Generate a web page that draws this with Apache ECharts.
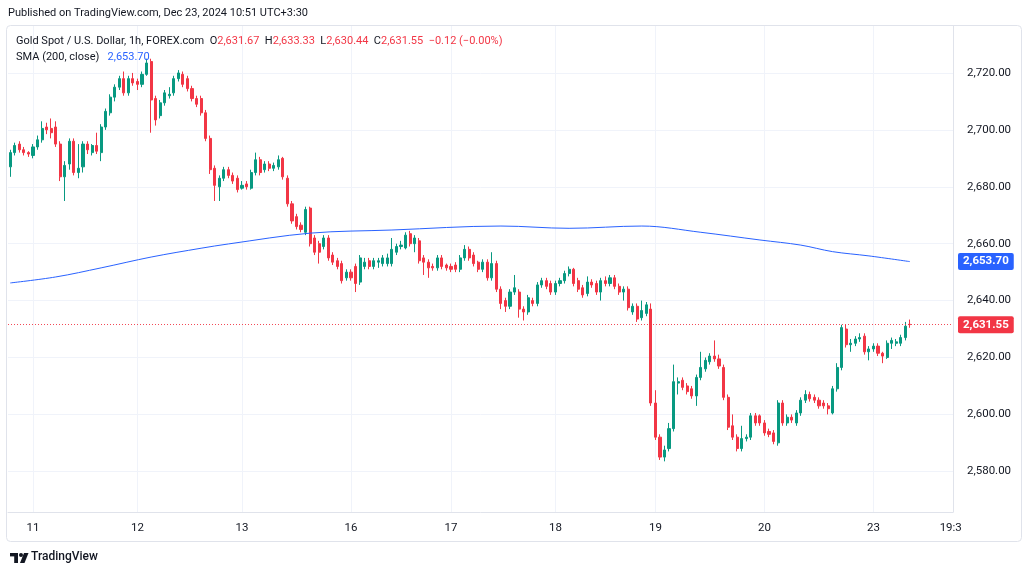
<!DOCTYPE html>
<html><head><meta charset="utf-8">
<script src="https://cdn.jsdelivr.net/npm/echarts@6/dist/echarts.min.js"></script>
<style>html,body{margin:0;padding:0;background:#fff}#c{width:1030px;height:574px}</style>
</head><body><div id="c"></div>
<script>
// Candles: [open, close, low, high], 1h bars, grouped by session day (UTC+3:30)
const dec10 = [
 [2687,2692,2683.5,2693],[2692,2694.5,2691,2695.5],[2695,2693,2692,2696],[2693,2692,2691,2694],[2692,2691.5,2690.5,2692.5]
];
const dec11 = [
 [2691,2694,2690,2695],[2694,2696.5,2693,2698],[2696.5,2700.5,2695.5,2703],[2701,2700,2698.5,2702.5],
 [2700.5,2699,2697,2704],[2701,2695,2694,2703],[2695,2683.5,2682,2696],[2683.5,2687.5,2675,2689],
 [2688,2696,2686,2697],[2696,2685,2684,2697],[2685,2686.5,2683,2695],[2687,2695,2685,2696],
 [2695,2693,2691.5,2696],[2692,2694.5,2691,2695],[2694.5,2692.5,2691.5,2699],[2692,2701,2689,2702],
 [2701,2706.5,2700,2707.5],[2706,2711.5,2705,2712.5],[2711.5,2715,2710,2716],[2715,2718,2714,2719],
 [2718,2713,2712,2720.5],[2713,2718,2712,2719],[2718,2716.5,2715.5,2720]
];
const dec12 = [
 [2717,2716,2714,2718],[2716,2719.5,2715,2720.5],[2719.5,2723.5,2719,2725],[2724,2710.5,2699,2725],
 [2711,2703.5,2701.5,2712],[2705,2709.5,2704,2710.5],[2709.5,2713,2708.5,2714],[2712,2712.5,2711,2715],
 [2713,2718,2712,2719],[2718,2720,2717,2721],[2719.5,2716,2715,2720.5],[2718,2714.5,2713.5,2719],
 [2714.5,2711,2710,2715.5],[2711,2709,2708,2712],[2711,2706,2705,2712],[2706,2697,2696,2707],
 [2697,2686,2684.5,2698],[2686.5,2680.5,2675,2687.5],[2680,2683,2675,2684],[2683,2686,2682,2687],
 [2686,2684,2683,2687],[2684,2682,2681,2685],[2683,2679,2678,2684]
];
const dec13 = [
 [2679.5,2680.5,2679,2682],[2681,2680,2679,2682],[2679.5,2685,2679,2686],[2685,2689.5,2684,2692],
 [2689.5,2685,2684,2690.5],[2686,2688,2685,2689],[2688,2686.5,2685.5,2689],[2686.5,2687.5,2685.5,2688.5],
 [2687,2689.5,2686,2691],[2690,2683.5,2682.5,2690.5],[2683,2674,2673,2684],[2674,2668,2667,2675],
 [2669.5,2666,2665,2670.5],[2666.5,2665,2664,2667.5],[2664,2672,2663,2673],[2672.5,2660,2659,2673],
 [2662,2657,2656,2663],[2660,2657,2653,2661],[2659,2662,2658,2663],[2662,2655,2654,2663],
 [2656,2653.5,2652.5,2657],[2654,2652,2651,2655],[2653,2647,2646,2654],[2648,2650,2647,2651]
];
const dec16 = [
 [2650,2648,2647,2651],[2652,2646,2643,2653],[2646.5,2655,2645.5,2656],[2652,2653.5,2651,2655],
 [2654,2652,2651,2655],[2652,2654,2651,2655],[2653.5,2654,2651.5,2655],[2653,2655,2652,2656],
 [2653,2655,2652,2656.5],[2653,2658,2652,2662],[2657,2659,2656,2660],[2659,2659.5,2658,2661],
 [2658.5,2663,2658,2664],[2663.5,2660,2659,2664.5],[2660,2662,2657,2663],[2661,2654,2653,2662],
 [2655,2653.5,2649,2656],[2653.5,2651.5,2648,2654.5],[2652,2651.5,2650.5,2653],[2651.5,2655,2650.5,2656],
 [2655,2652,2651,2656],[2652.5,2651.5,2650.5,2653]
];
const dec17 = [
 [2652,2651,2650,2653],[2652.5,2651,2650,2653.5],[2651,2655,2650,2656],[2655,2658,2654,2659.5],
 [2658,2655,2654,2659],[2656,2653,2652,2657],[2653.5,2651,2650,2654],[2651,2653.5,2650,2654.5],
 [2653.5,2648,2647,2654.5],[2648,2653,2647,2657],[2653,2644,2643,2654],[2644,2639,2637,2645],
 [2640,2638,2636,2641],[2638,2643,2637,2644],[2643,2644.5,2642,2649],[2643,2637,2634,2644],
 [2637,2636,2633,2638],[2636,2641,2635,2642],[2640,2639,2638,2641],[2639,2645.5,2638,2646.5],
 [2645.5,2647,2644.5,2648],[2647,2645,2644,2648],[2646,2643,2642,2647]
];
const dec18 = [
 [2643,2646,2642,2647],[2646,2647,2645,2648],[2647,2649.5,2646,2650.5],[2649.5,2651,2648.5,2652],
 [2651,2646,2645,2651.5],[2647,2644,2643,2648],[2644.5,2642,2641,2645.5],[2642.5,2646.5,2641.5,2648.5],
 [2646.5,2645.5,2644.5,2647.5],[2646,2643,2642,2647],[2643,2647,2640,2648],[2647,2646,2645,2648.5],
 [2646,2648,2645,2649],[2648,2645,2644,2649],[2645,2643,2642,2646],[2643,2644,2640,2645],
 [2644,2637.5,2636.5,2645],[2636,2638,2635,2639],[2638,2633.5,2632.5,2639],[2634,2636.5,2633,2640],
 [2635.5,2638.5,2634.5,2639.5],[2637,2604,2603,2639]
];
const dec19 = [
 [2604,2592,2591,2608.5],[2592,2585,2584,2593],[2585,2587.5,2583.5,2589],[2588,2595,2587,2597],
 [2595,2611.5,2594,2617.5],[2611,2611.5,2607,2613],[2612,2609.5,2608.5,2613],[2610,2608,2607,2611],
 [2609,2606.5,2605.5,2610],[2606.5,2613,2603,2614],[2613,2616.5,2612,2622],[2616,2619,2615,2620],
 [2618.5,2620.5,2617.5,2621.5],[2620.5,2619.5,2618.5,2626],[2619.5,2617,2616,2621],[2616.5,2606,2605,2617.5],
 [2606,2595.5,2594.5,2607],[2596,2592,2591,2600],[2592,2588,2587,2593],[2588,2591.5,2587,2596],
 [2591.5,2592,2590.5,2593],[2592,2599.5,2591,2600.5],[2599.5,2597,2596,2600.5],[2599.5,2597,2596,2600]
];
const dec20 = [
 [2597,2593.5,2592.5,2598],[2594,2593,2592,2595],[2593.5,2590.5,2589.5,2594.5],[2590,2604,2589,2605],
 [2604,2597,2596,2605],[2597,2599,2596,2600],[2599,2598,2597,2600],[2597,2600.5,2596,2601.5],
 [2600.5,2605,2599.5,2606],[2605,2607,2604,2608.5],[2607,2605.5,2604.5,2608],[2606,2605,2604,2607],
 [2605,2603,2602,2606],[2604,2603,2602,2605],[2603,2602,2600,2604],[2600.5,2609,2600,2610],
 [2609,2616.5,2608,2618],[2616.5,2630.5,2615.5,2631.5],[2630,2624.5,2623.5,2631.5],[2624.5,2625,2622,2626.5],
 [2625,2626.5,2624,2627.5],[2626.5,2627,2625.5,2628.5],[2627.5,2622,2621,2628.5],[2622,2623,2619,2624]
];
const dec23 = [
 [2623,2624,2622,2625],[2624,2621.5,2620.5,2625],[2621.5,2620.5,2618,2622],[2620,2625,2619.5,2626],
 [2625,2626,2623,2627],[2625,2625.5,2624,2626.5],[2625,2627,2624,2628],[2627,2631,2626,2632.5],
 [2631.67,2631.55,2630.44,2633.33]
];
// SMA(200, close) read at sampled bar indices: [barIndex, value]
const smaPoints = [
 [0,2646.2],[10,2648.3],[20,2651.5],[31,2655.3],[42,2658.4],[48,2659.9],[66,2663.7],[84,2664.8],
 [108,2666.2],[123,2665.4],[139,2666.2],[152,2664.0],[165,2661.3],[174,2659.5],[181,2657.2],[189,2655.7],[198,2653.7]
];
const tickLabels = ['11','12','13','16','17','18','19','20','23','19:3'];
const tickIndex  = [5,28,51,75,97,120,142,166,190,207];
const futureSlots = 9;
const lastPrice = 2631.55;
const smaLast = 2653.70;
const yMin = 2565.7, yMax = 2736.5;

const candles = [].concat(dec10, dec11, dec12, dec13, dec16, dec17, dec18, dec19, dec20, dec23);
const ohlcSeries = candles.map(c => [c[0], c[1], c[2], c[3]]);
const nSlots = candles.length + futureSlots;
const cats = [];
for (let i = 0; i < nSlots; i++) cats.push('b' + i);
const labelAt = {};
tickIndex.forEach((ix, k) => { labelAt[ix] = tickLabels[k]; });
const fmt = v => v.toLocaleString('en-US', {minimumFractionDigits: 2, maximumFractionDigits: 2});

const FONT = 'Roboto';
const DARK = '#131722';
const UP = '#089981', DOWN = '#f23645', BLUE = '#2962ff';

const chart = echarts.init(document.getElementById('c'), null, {renderer: 'canvas'});
chart.setOption({
  animation: false,
  backgroundColor: '#ffffff',
  textStyle: {fontFamily: FONT},
  grid: {left: 8, right: 77, top: 26, bottom: 62},
  xAxis: {
    type: 'category', data: cats, boundaryGap: true,
    axisLine: {show: true, lineStyle: {color: '#e0e3eb'}},
    axisTick: {show: false},
    axisLabel: {
      interval: (i) => labelAt[i] !== undefined,
      formatter: (v, i) => labelAt[i] || '',
      color: DARK, fontSize: 11.5, fontFamily: FONT, margin: 10
    },
    splitLine: {show: true, alignWithLabel: true, interval: (i) => labelAt[i] !== undefined && i < 200,
      lineStyle: {color: '#f0f3fa', width: 1}}
  },
  yAxis: {
    type: 'value', position: 'right', min: yMin, max: yMax, splitNumber: 8,
    axisLine: {show: true, lineStyle: {color: '#e0e3eb'}},
    axisTick: {show: false},
    axisLabel: {color: DARK, fontSize: 11.5, fontFamily: FONT, margin: 14,
      showMinLabel: false, showMaxLabel: false,
      formatter: v => (Math.abs(v / 20 - Math.round(v / 20)) < 1e-6 ? fmt(v) : '')},
    splitLine: {show: true, showMinLine: false, showMaxLine: false, lineStyle: {color: '#f0f3fa', width: 1}}
  },
  series: [
    {
      type: 'candlestick', data: ohlcSeries, barWidth: 2.6, z: 2,
      itemStyle: {color: UP, color0: DOWN, borderColor: UP, borderColor0: DOWN, borderWidth: 1},
      markLine: {
        silent: true, symbol: ['none', 'none'], animation: false,
        data: [{yAxis: lastPrice}],
        lineStyle: {color: DOWN, type: [1, 2], width: 1, opacity: 0.9},
        label: {show: true, position: 'end', distance: 5, formatter: fmt(lastPrice),
          color: '#fff', backgroundColor: DOWN, padding: [3, 5, 2, 5], borderRadius: 2,
          fontSize: 11.5, fontWeight: 'bold', fontFamily: FONT, opacity: 1}
      }
    },
    {
      type: 'line', data: smaPoints, smooth: 0.35, showSymbol: false, z: 3,
      lineStyle: {color: BLUE, width: 1},
      markLine: {
        silent: true, symbol: ['none', 'none'], animation: false,
        data: [{yAxis: smaLast}],
        lineStyle: {color: 'rgba(0,0,0,0)', width: 1, opacity: 1},
        label: {show: true, position: 'end', distance: 5, formatter: fmt(smaLast),
          color: '#fff', backgroundColor: BLUE, padding: [3, 5, 2, 5], borderRadius: 2,
          fontSize: 11.5, fontWeight: 'bold', fontFamily: FONT, opacity: 1}
      }
    }
  ],
  graphic: [
    {type: 'rect', z: 0, silent: true, shape: {x: 6.5, y: 25.5, width: 1015, height: 516, r: 4},
      style: {fill: 'none', stroke: '#e0e3eb', lineWidth: 1}},
    {type: 'text', left: 8, top: 8, silent: true,
      style: {text: 'Published on TradingView.com, Dec 23, 2024 10:51 UTC+3:30', fill: DARK, font: '11px Roboto'}},
    {type: 'text', left: 16, top: 36, silent: true, z: 10,
      style: {
        text: '{d|Gold Spot / U.S. Dollar, 1h, FOREX.com}  {d|O}{r|2,631.67}  {d|H}{r|2,633.33}  {d|L}{r|2,630.44}  {d|C}{r|2,631.55}  {r|−0.12 (−0.00%)}',
        font: '11px Roboto',
        rich: {d: {fill: DARK, font: '11px Roboto'}, r: {fill: DOWN, font: '11px Roboto'}}
      }},
    {type: 'text', left: 16, top: 52, silent: true, z: 10,
      style: {text: '{d|SMA (200, close)}   {b|2,653.70}', font: '11px Roboto',
        rich: {d: {fill: DARK, font: '11px Roboto'}, b: {fill: BLUE, font: '11px Roboto'}}}},
    // TradingView logo (simplified) + wordmark
    {type: 'rect', silent: true, shape: {x: 10, y: 553, width: 8, height: 3.4}, style: {fill: DARK}},
    {type: 'rect', silent: true, shape: {x: 14.2, y: 553, width: 3.8, height: 10}, style: {fill: DARK}},
    {type: 'circle', silent: true, shape: {cx: 21, cy: 555, r: 2}, style: {fill: DARK}},
    {type: 'polygon', silent: true, shape: {points: [[24,553],[28.5,553],[24.5,563],[20,563]]}, style: {fill: DARK}},
    {type: 'text', left: 31, top: 551, silent: true,
      style: {text: 'TradingView', fill: DARK, font: '500 12px Roboto'}}
  ]
});
</script>
</body></html>
